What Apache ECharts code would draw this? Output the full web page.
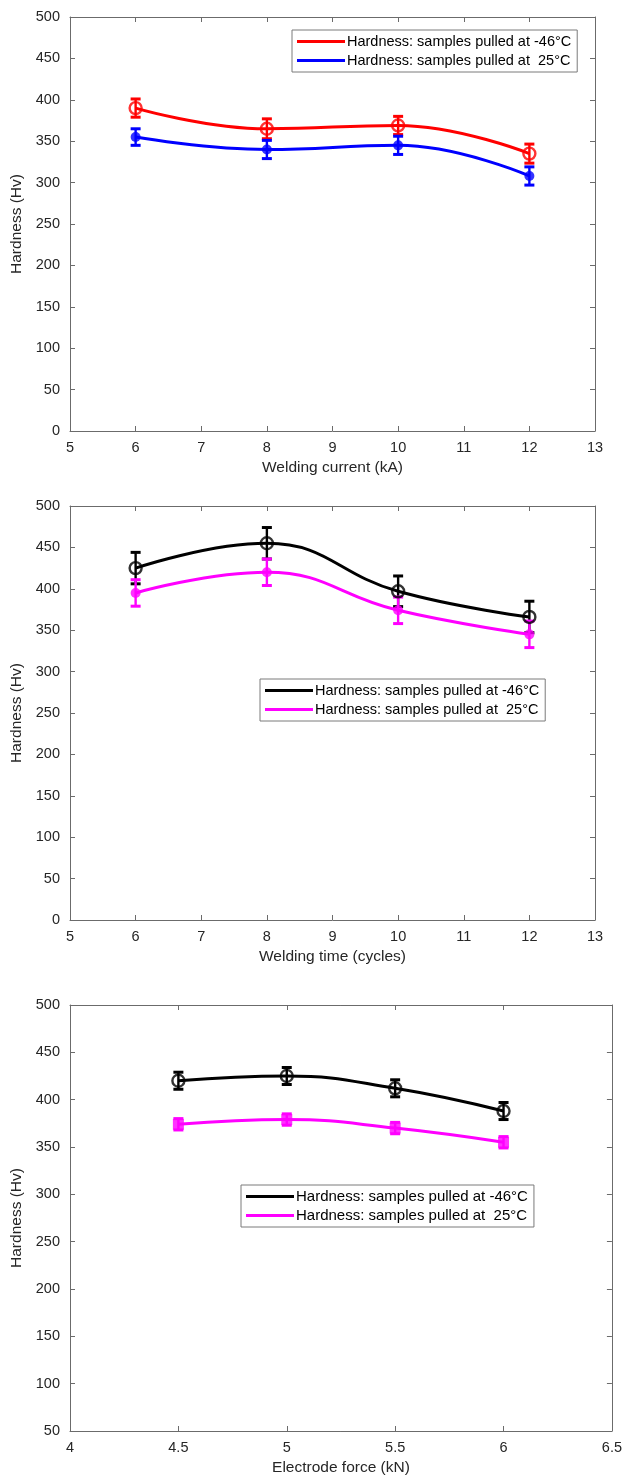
<!DOCTYPE html>
<html>
<head>
<meta charset="utf-8">
<script src="https://cdn.jsdelivr.net/npm/echarts@6/dist/echarts.min.js"></script>
<style>
html, body { margin: 0; padding: 0; background: #fff; }
.chart { width: 625px; }
#chartCurrent { height: 490px; }
#chartTime { height: 500px; }
#chartForce { height: 493px; }
</style>
</head>
<body>
<div id="chartCurrent" class="chart"></div>
<div id="chartTime" class="chart"></div>
<div id="chartForce" class="chart"></div>
<script>
const legendCold = 'Hardness: samples pulled at -46°C'
const legendWarm = 'Hardness: samples pulled at  25°C'

// welding current plot
const currentX = [6, 8, 10, 12]
const currentCold = [390, 365, 369, 335]
const currentColdErr = [11, 12, 11, 11.5]
const currentWarm = [355, 340, 345, 308]
const currentWarmErr = [10, 11, 11, 11]

// welding time plot
const timeX = [6, 8, 10, 12]
const timeCold = [425, 455, 397, 366]
const timeColdErr = [19, 19, 18.5, 19]
const timeWarm = [395, 420, 374, 345]
const timeWarmErr = [16, 16, 16, 16]

// electrode force plot
const forceX = [4.5, 5, 5.5, 6]
const forceCold = [420, 425, 412, 388]
const forceColdErr = [9, 9, 9, 9]
const forceWarm = [374, 379, 370, 355]
const forceWarmErr = [6, 6, 6, 6]

// axis ranges [min, max, interval]
const currentXRange = [5, 13, 1]
const timeXRange = [5, 13, 1]
const forceXRange = [4, 6.5, 0.5]
const hardnessRange = [0, 500, 50]
const forceHardnessRange = [50, 500, 50]

const textColor = '#262626'
const boxColor = '#6b6b6b'

function pairs(xs, ys) {
    return xs.map((x, i) => [x, ys[i]])
}
function bars(xs, ys, es) {
    return xs.map((x, i) => [x, ys[i] - es[i], ys[i] + es[i]])
}

function errorSeries(color, data) {
    return {
        type: 'custom',
        data: data,
        encode: { x: 0, y: [1, 2] },
        silent: true,
        renderItem: function (params, api) {
            let top = api.coord([api.value(0), api.value(2)])
            let bot = api.coord([api.value(0), api.value(1)])
            let w = 5
            let style = { stroke: color, lineWidth: 2.4 }
            return {
                type: 'group',
                children: [
                    { type: 'line', shape: { x1: top[0], y1: top[1], x2: bot[0], y2: bot[1] }, style: style },
                    { type: 'line', shape: { x1: top[0] - w, y1: top[1], x2: top[0] + w, y2: top[1] }, style: { stroke: color, lineWidth: 3 } },
                    { type: 'line', shape: { x1: bot[0] - w, y1: bot[1], x2: bot[0] + w, y2: bot[1] }, style: { stroke: color, lineWidth: 3 } }
                ]
            }
        }
    }
}

function axisPair(range, isX, name, nameGap) {
    let main = {
        type: 'value',
        min: range[0],
        max: range[1],
        interval: range[2],
        position: isX ? 'bottom' : 'left',
        name: name,
        nameLocation: 'middle',
        nameGap: nameGap,
        nameTextStyle: { fontSize: 15.5, color: textColor, fontFamily: 'Liberation Sans' },
        axisLine: { show: true, onZero: false, lineStyle: { color: boxColor, width: 1 } },
        axisTick: { show: true, inside: true, length: 5, lineStyle: { color: boxColor } },
        axisLabel: { fontSize: 14.5, color: textColor, margin: isX ? 9 : 10, fontFamily: 'Liberation Sans' },
        splitLine: { show: false }
    }
    let other = {
        type: 'value',
        min: range[0],
        max: range[1],
        interval: range[2],
        position: isX ? 'top' : 'right',
        axisLine: { show: true, onZero: false, lineStyle: { color: boxColor, width: 1 } },
        axisTick: { show: true, inside: true, length: 5, lineStyle: { color: boxColor } },
        axisLabel: { show: false },
        splitLine: { show: false }
    }
    return [main, other]
}

function makeOption(cfg) {
    return {
        animation: false,
        grid: { left: 70, top: cfg.gridTop, width: cfg.gridWidth, height: cfg.gridHeight },
        legend: {
            orient: 'vertical',
            left: cfg.legendLeft,
            top: cfg.legendTop,
            data: [legendCold, legendWarm],
            icon: 'rect',
            itemWidth: 48,
            itemHeight: 3,
            itemGap: 4,
            padding: [4, 6, 4, 5],
            borderColor: '#7a7a7a',
            borderWidth: 1,
            backgroundColor: '#fff',
            selectedMode: false,
            textStyle: { fontSize: cfg.legendFont, color: '#000', fontFamily: 'Liberation Sans', padding: [0, 0, 0, -3] }
        },
        xAxis: axisPair(cfg.xRange, true, cfg.xName, 29),
        yAxis: axisPair(cfg.yRange, false, 'Hardness (Hv)', 38),
        series: [
            {
                name: legendCold, type: 'line', smooth: 0.45, symbol: 'none',
                color: cfg.coldColor, lineStyle: { width: 3, color: cfg.coldColor },
                data: pairs(cfg.x, cfg.cold)
            },
            {
                name: legendWarm, type: 'line', smooth: 0.45, symbol: 'none',
                color: cfg.warmColor, lineStyle: { width: 3, color: cfg.warmColor },
                data: pairs(cfg.x, cfg.warm)
            },
            errorSeries(cfg.coldColor, bars(cfg.x, cfg.cold, cfg.coldErr)),
            errorSeries(cfg.warmColor, bars(cfg.x, cfg.warm, cfg.warmErr)),
            {
                type: 'scatter', symbol: 'circle', symbolSize: 12, silent: true,
                itemStyle: { color: 'rgba(0,0,0,0)', borderColor: cfg.coldColor, borderWidth: 2.4 },
                data: pairs(cfg.x, cfg.cold)
            },
            {
                type: 'scatter', symbol: cfg.warmSymbol, symbolSize: cfg.warmSymbolSize, silent: true,
                itemStyle: { color: cfg.warmColor },
                data: pairs(cfg.x, cfg.warm)
            }
        ]
    }
}

let c1 = echarts.init(document.getElementById('chartCurrent'))
c1.setOption(makeOption({
    gridTop: 17, gridWidth: 525, gridHeight: 414,
    legendLeft: 292, legendTop: 30, legendFont: 14.5,
    xRange: currentXRange, yRange: hardnessRange, xName: 'Welding current (kA)',
    x: currentX, cold: currentCold, coldErr: currentColdErr, warm: currentWarm, warmErr: currentWarmErr,
    coldColor: '#ff0000', warmColor: '#0000ff', warmSymbol: 'circle', warmSymbolSize: 10
}))

let c2 = echarts.init(document.getElementById('chartTime'))
c2.setOption(makeOption({
    gridTop: 16, gridWidth: 525, gridHeight: 414,
    legendLeft: 260, legendTop: 189, legendFont: 14.5,
    xRange: timeXRange, yRange: hardnessRange, xName: 'Welding time (cycles)',
    x: timeX, cold: timeCold, coldErr: timeColdErr, warm: timeWarm, warmErr: timeWarmErr,
    coldColor: '#000000', warmColor: '#ff00ff', warmSymbol: 'circle', warmSymbolSize: 10
}))

let c3 = echarts.init(document.getElementById('chartForce'))
c3.setOption(makeOption({
    gridTop: 15, gridWidth: 543, gridHeight: 426,
    legendLeft: 241, legendTop: 195, legendFont: 15,
    xRange: forceXRange, yRange: forceHardnessRange, xName: 'Electrode force (kN)',
    x: forceX, cold: forceCold, coldErr: forceColdErr, warm: forceWarm, warmErr: forceWarmErr,
    coldColor: '#000000', warmColor: '#ff00ff', warmSymbol: 'rect', warmSymbolSize: 11
}))
</script>
</body>
</html>
